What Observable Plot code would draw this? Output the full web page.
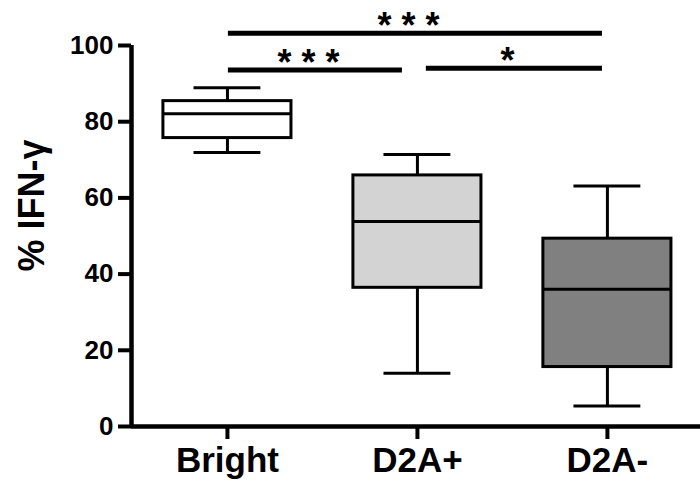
<!DOCTYPE html>
<html><head><meta charset="utf-8">
<script src="https://cdn.jsdelivr.net/npm/d3@7"></script>
<script src="https://cdn.jsdelivr.net/npm/@observablehq/plot@0.6"></script>
<style>
html,body{margin:0;padding:0;background:#fff;}
#chart svg{display:block;}
</style></head><body><div id="chart"></div>
<script>
const groups = ["Bright", "D2A+", "D2A-"];
const whiskerLow = [71.9, 14.0, 5.4];
const q1 = [75.7, 36.4, 15.6];
const median = [82.1, 53.8, 36.0];
const q3 = [85.4, 65.9, 49.3];
const whiskerHigh = [88.9, 71.4, 63.1];
const yTicks = [0, 20, 40, 60, 80, 100];
const yLabel = "% IFN-γ";
const compFrom = ["Bright", "Bright", "D2A+"];
const compTo = ["D2A-", "D2A+", "D2A-"];
const compY = [103.2, 93.6, 94.0];
const compLabel = ["***", "***", "*"];

const boxes = groups.map((g, i) => ({group: g, i, lo: whiskerLow[i], q1: q1[i], med: median[i], q3: q3[i], hi: whiskerHigh[i]}));
const comps = compFrom.map((a, k) => ({a: groups.indexOf(a), b: groups.indexOf(compTo[k]), y: compY[k], label: compLabel[k].split("").join(" ")}));

const half = 0.337, cap = 0.176;
const cx1 = d => d.a + (d.a === 0 ? 0.005 : 0.047);
const cx2 = d => d.b - (d.b === 2 ? 0.026 : 0.079);
const xMin = -0.505;

const plot = Plot.plot({
  width: 700, height: 484,
  marginLeft: 131, marginRight: 0, marginTop: 45, marginBottom: 58,
  style: {fontFamily: "'Liberation Sans', Arial, sans-serif", fontWeight: "bold", color: "#000", background: "#fff", overflow: "visible"},
  x: {type: "linear", domain: [xMin, 2.49]},
  y: {domain: [0, 100]},
  color: {domain: groups, range: ["#ffffff", "#d3d3d3", "#808080"]},
  marks: [
    Plot.ruleX(boxes, {x: "i", y1: "q3", y2: "hi", strokeWidth: 3}),
    Plot.ruleX(boxes, {x: "i", y1: "lo", y2: "q1", strokeWidth: 3}),
    Plot.ruleY(boxes, {y: "hi", x1: d => d.i - cap, x2: d => d.i + cap, strokeWidth: 3}),
    Plot.ruleY(boxes, {y: "lo", x1: d => d.i - cap, x2: d => d.i + cap, strokeWidth: 3}),
    Plot.rect(boxes, {x1: d => d.i - half, x2: d => d.i + half, y1: "q1", y2: "q3", fill: "group", stroke: "#000", strokeWidth: 3}),
    Plot.ruleY(boxes, {y: "med", x1: d => d.i - half, x2: d => d.i + half, strokeWidth: 3}),
    Plot.axisY({ticks: yTicks, tickSize: 13, tickPadding: 5, strokeWidth: 4, fontSize: 26, fontWeight: "bold", label: null}),
    Plot.axisX({ticks: [0, 1, 2], tickFormat: i => groups[i], tickSize: 13, tickPadding: 8, strokeWidth: 4, fontSize: 35, fontWeight: "bold", label: null}),
    Plot.ruleX([xMin], {y1: 0, y2: 100, strokeWidth: 4.5}),
    Plot.ruleY([0], {strokeWidth: 4.5}),
    Plot.text([yLabel], {frameAnchor: "left", y: 58, rotate: -90, dx: -99, textAnchor: "middle", fontSize: 36, fontWeight: "bold"}),
    Plot.ruleY(comps, {y: "y", x1: cx1, x2: cx2, strokeWidth: 5}),
    Plot.text(comps, {x: d => (cx1(d) + cx2(d)) / 2, y: "y", text: "label", lineAnchor: "bottom", dy: 5, dx: -7, fontSize: 36, fontWeight: "bold"})
  ]
});
document.getElementById("chart").appendChild(plot);
</script></body></html>
